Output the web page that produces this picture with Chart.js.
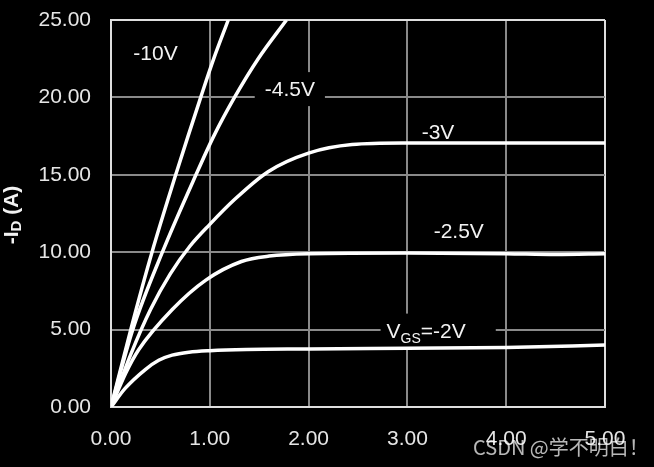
<!DOCTYPE html>
<html>
<head>
<meta charset="utf-8">
<script src="https://cdn.jsdelivr.net/npm/chart.js@4"></script>
<style>
html, body { margin: 0; background: #000; }
#wrap { width: 654px; height: 467px; }
</style>
</head>
<body>
<div id="wrap"><canvas id="c"></canvas></div>
<script>
// VDS (x) and -ID (y), one pair of arrays per VGS curve
const vds10 = [0, 0.2, 0.415, 0.655, 0.78, 0.908, 1.04, 1.187];
const id10 = [0, 5.0, 10.0, 15.0, 17.5, 20.0, 22.5, 25.0];

const vds45 = [0, 0.22, 0.52, 0.86, 1.04, 1.25, 1.49, 1.776];
const id45 = [0, 5.0, 10.0, 15.0, 17.5, 20.0, 22.5, 25.0];

const vds3 = [0, 0.2, 0.4, 0.6, 0.8, 1.0, 1.25, 1.59, 2.0, 2.44, 2.95, 4.0, 5.0];
const id3 = [0, 3.4, 6.3, 8.6, 10.4, 11.8, 13.4, 15.2, 16.4, 16.95, 17.05, 17.05, 17.05];

const vds25 = [0, 0.15, 0.28, 0.62, 0.96, 1.32, 1.6, 2.0, 3.0, 4.0, 4.5, 5.0];
const id25 = [0, 2.2, 3.7, 6.3, 8.2, 9.4, 9.75, 9.9, 9.95, 9.9, 9.85, 9.9];

const vds2 = [0, 0.143, 0.347, 0.483, 0.619, 0.789, 1.0, 1.37, 2.0, 3.0, 4.0, 5.0];
const id2 = [0, 1.2, 2.42, 3.02, 3.35, 3.54, 3.64, 3.72, 3.75, 3.8, 3.85, 4.0];

const xTicks = [0, 1, 2, 3, 4, 5];
const yTicks = [0, 5, 10, 15, 20, 25];

// curve labels, anchored in data units
const curveNotes = [
    { parts: [['-10V', 0]], x: 0.45, y: 22.95, padL: 8, padR: 8 },
    { parts: [['-4.5V', 0]], x: 1.81, y: 20.6, padL: 10, padR: 10 },
    { parts: [['-3V', 0]], x: 3.31, y: 17.8, padL: 6, padR: 6 },
    { parts: [['-2.5V', 0]], x: 3.52, y: 11.45, padL: 6, padR: 6 },
    { parts: [['V', 0], ['GS', 1], ['=-2V', 0]], x: 3.19, y: 5.0, padL: 6, padR: 30 }
];

const FONT = '"Liberation Sans", Arial, sans-serif';

function toPoints(xs, ys) {
    return xs.map((x, i) => ({ x: x, y: ys[i] }));
}

function curve(xs, ys) {
    return {
        data: toPoints(xs, ys),
        borderColor: '#ffffff',
        borderWidth: 3.5,
        pointRadius: 0,
        fill: false,
        cubicInterpolationMode: 'monotone'
    };
}

const notesPlugin = {
    id: 'notes',
    beforeDatasetsDraw(chart) {
        const ctx = chart.ctx;
        const xs = chart.scales.x, ys = chart.scales.y;
        ctx.save();
        ctx.textBaseline = 'alphabetic';
        curveNotes.forEach(n => {
            let w = 0;
            n.parts.forEach(p => {
                ctx.font = (p[1] ? 14 : 21) + 'px ' + FONT;
                w += ctx.measureText(p[0]).width;
            });
            const cx = xs.getPixelForValue(n.x);
            const cy = ys.getPixelForValue(n.y);
            ctx.fillStyle = '#000';
            ctx.fillRect(cx - w / 2 - n.padL, cy - 16, w + n.padL + n.padR, 34);
            let x = cx - w / 2;
            ctx.fillStyle = '#f2f2f2';
            n.parts.forEach(p => {
                ctx.font = (p[1] ? 14 : 21) + 'px ' + FONT;
                ctx.fillText(p[0], x, cy + 8 + (p[1] ? 5 : 0));
                x += ctx.measureText(p[0]).width;
            });
        });
        ctx.restore();
    },
    afterDraw(chart) {
        const ctx = chart.ctx;
        ctx.save();
        // y axis title -I_D (A), rotated
        ctx.translate(12, 215);
        ctx.rotate(-Math.PI / 2);
        ctx.fillStyle = '#f2f2f2';
        ctx.textBaseline = 'middle';
        const parts = [['-I', 21, 0], ['D', 15, 5], [' (A)', 21, 0]];
        let w = 0;
        parts.forEach(p => { ctx.font = 'bold ' + p[1] + 'px ' + FONT; w += ctx.measureText(p[0]).width; });
        let x = -w / 2;
        parts.forEach(p => {
            ctx.font = 'bold ' + p[1] + 'px ' + FONT;
            ctx.fillText(p[0], x, p[2]);
            x += ctx.measureText(p[0]).width;
        });
        ctx.restore();

        // watermark
        ctx.save();
        ctx.font = '20px "Noto Sans CJK SC", sans-serif';
        ctx.fillStyle = 'rgba(255,255,255,0.72)';
        ctx.textBaseline = 'middle';
        ctx.fillText('CSDN @学不明白！', 473, 447);
        ctx.restore();
    }
};

const edge = '#dedede';
const gridGray = '#8a8a8a';

new Chart(document.getElementById('c'), {
    type: 'line',
    data: {
        datasets: [
            curve(vds10, id10),
            curve(vds45, id45),
            curve(vds3, id3),
            curve(vds25, id25),
            curve(vds2, id2)
        ]
    },
    options: {
        responsive: true,
        maintainAspectRatio: false,
        animation: false,
        devicePixelRatio: 1,
        layout: { padding: { top: 20, right: 49, left: 0, bottom: 0 } },
        plugins: { legend: { display: false }, tooltip: { enabled: false } },
        scales: {
            x: {
                type: 'linear',
                min: 0,
                max: 5,
                afterBuildTicks: s => { s.ticks = xTicks.map(v => ({ value: v })); },
                afterFit: s => { s.height = 60; s.paddingLeft = 0; s.paddingRight = 0; },
                ticks: {
                    color: '#e6e6e6',
                    font: { size: 21, family: FONT },
                    padding: 20,
                    maxRotation: 0,
                    callback: v => v.toFixed(2)
                },
                grid: {
                    color: c => (c.tick && c.tick.value === 5 ? edge : gridGray),
                    lineWidth: 2,
                    drawTicks: false
                },
                border: { color: edge, width: 2 }
            },
            y: {
                min: 0,
                max: 25,
                afterBuildTicks: s => { s.ticks = yTicks.map(v => ({ value: v })); },
                afterFit: s => { s.width = 111; s.paddingTop = 0; s.paddingBottom = 0; },
                ticks: {
                    color: '#e6e6e6',
                    font: { size: 21, family: FONT },
                    padding: 20,
                    callback: v => v.toFixed(2)
                },
                grid: {
                    color: c => (c.tick && c.tick.value === 25 ? edge : gridGray),
                    lineWidth: 2,
                    drawTicks: false
                },
                border: { color: edge, width: 2 }
            }
        }
    },
    plugins: [notesPlugin]
});
</script>
</body>
</html>
